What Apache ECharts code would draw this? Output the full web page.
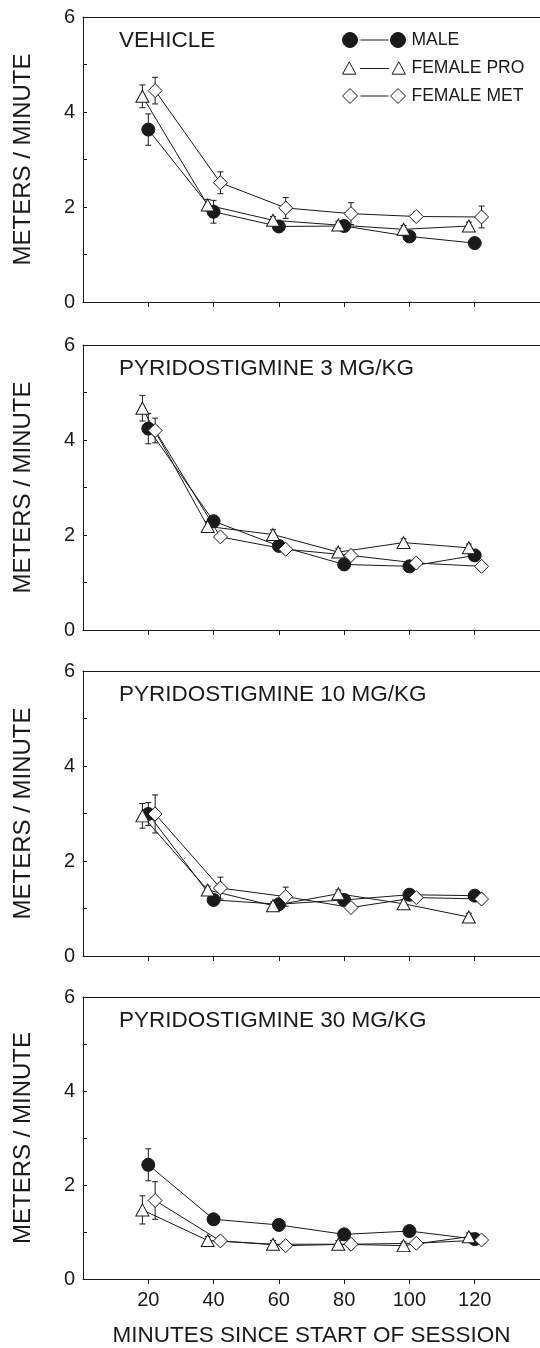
<!DOCTYPE html>
<html>
<head>
<meta charset="utf-8">
<script src="https://cdn.jsdelivr.net/npm/echarts@6/dist/echarts.min.js"></script>
<style>
  html, body { margin: 0; padding: 0; background: #fff; }
  #chart { width: 540px; height: 1348px; }
</style>
</head>
<body>
<div id="chart"></div>
<script>
// minutes since start of session
const minutes = [20, 40, 60, 80, 100, 120];
const panelTitles = ['VEHICLE', 'PYRIDOSTIGMINE 3 MG/KG', 'PYRIDOSTIGMINE 10 MG/KG', 'PYRIDOSTIGMINE 30 MG/KG'];
const yTicks = [0, 2, 4, 6];

// meters / minute, one row per panel
const maleVals = [
  [3.63, 1.90, 1.59, 1.60, 1.38, 1.24],
  [4.24, 2.29, 1.77, 1.38, 1.34, 1.57],
  [2.99, 1.18, 1.09, 1.18, 1.29, 1.27],
  [2.43, 1.27, 1.15, 0.95, 1.02, 0.85]
];
const proVals = [
  [4.33, 2.04, 1.72, 1.62, 1.53, 1.60],
  [4.67, 2.18, 2.01, 1.64, 1.84, 1.73],
  [2.95, 1.39, 1.06, 1.31, 1.10, 0.82],
  [1.47, 0.82, 0.74, 0.74, 0.71, 0.90]
];
const metVals = [
  [4.45, 2.51, 1.98, 1.86, 1.80, 1.79],
  [4.20, 1.96, 1.70, 1.57, 1.41, 1.34],
  [2.99, 1.43, 1.25, 1.02, 1.23, 1.20],
  [1.67, 0.81, 0.71, 0.74, 0.76, 0.83]
];

// standard errors
const maleErr = [
  [0.33, 0.24, 0.10, 0.08, 0.08, 0.08],
  [0.32, 0.10, 0.10, 0.08, 0.08, 0.08],
  [0.24, 0.08, 0.08, 0.08, 0.08, 0.08],
  [0.34, 0.08, 0.08, 0.08, 0.08, 0.08]
];
const proErr = [
  [0.24, 0.12, 0.08, 0.08, 0.08, 0.08],
  [0.27, 0.10, 0.10, 0.08, 0.08, 0.08],
  [0.26, 0.08, 0.08, 0.08, 0.08, 0.08],
  [0.30, 0.08, 0.08, 0.08, 0.08, 0.08]
];
const metErr = [
  [0.28, 0.23, 0.22, 0.23, 0.10, 0.23],
  [0.26, 0.08, 0.08, 0.08, 0.08, 0.08],
  [0.40, 0.23, 0.20, 0.08, 0.08, 0.08],
  [0.40, 0.08, 0.08, 0.08, 0.08, 0.08]
];

const FONT = "'Liberation Sans', Arial, sans-serif";
const INK = '#1a1a1a';
const panelTops = [17, 345, 671, 997];
const panelHeight = 285;

const groups = [
  { name: 'MALE', vals: maleVals, err: maleErr, shift: 0, symbol: 'circle', size: 13, fill: INK },
  { name: 'FEMALE PRO', vals: proVals, err: proErr, shift: -1.8, symbol: 'triangle', size: [13, 12], fill: '#fff' },
  { name: 'FEMALE MET', vals: metVals, err: metErr, shift: 2.1, symbol: 'diamond', size: [14, 14], fill: '#fff' }
];

function errorBarItem(params, api) {
  const x = api.value(0);
  const top = api.coord([x, api.value(2)]);
  const bot = api.coord([x, api.value(1)]);
  const w = 3;
  const st = { stroke: INK, lineWidth: 1 };
  return {
    type: 'group',
    children: [
      { type: 'line', shape: { x1: top[0], y1: top[1], x2: bot[0], y2: bot[1] }, style: st },
      { type: 'line', shape: { x1: top[0] - w, y1: top[1], x2: top[0] + w, y2: top[1] }, style: st },
      { type: 'line', shape: { x1: bot[0] - w, y1: bot[1], x2: bot[0] + w, y2: bot[1] }, style: st }
    ]
  };
}

const grid = [], xAxis = [], yAxis = [], series = [], title = [];

panelTops.forEach(function (top, p) {
  const last = p === panelTops.length - 1;
  grid.push({ left: 83, right: 0, top: top, height: panelHeight });
  title.push({
    text: panelTitles[p], left: 114, top: top + 7,
    textStyle: { fontFamily: FONT, fontSize: 22.5, fontWeight: 'normal', color: INK }
  });
  xAxis.push({
    gridIndex: p, type: 'value', min: 0, max: 140, interval: 20,
    name: last ? 'MINUTES SINCE START OF SESSION' : '',
    nameLocation: 'middle', nameGap: 45,
    nameTextStyle: { fontFamily: FONT, fontSize: 22.5, color: INK },
    axisLine: { lineStyle: { color: INK, width: 1 } },
    axisTick: { show: true, length: 5, customValues: minutes, lineStyle: { color: INK } },
    axisLabel: { show: last, customValues: minutes, margin: 11, fontFamily: FONT, fontSize: 20, color: INK },
    splitLine: { show: false }
  });
  // top frame line
  xAxis.push({
    gridIndex: p, type: 'value', position: 'top', min: 0, max: 140,
    axisLine: { show: true, lineStyle: { color: INK, width: 1 } },
    axisTick: { show: false }, axisLabel: { show: false }, splitLine: { show: false }
  });
  yAxis.push({
    gridIndex: p, type: 'value', min: 0, max: 6, interval: 1,
    name: 'METERS / MINUTE', nameLocation: 'middle', nameGap: 48,
    nameTextStyle: { fontFamily: FONT, fontSize: 24, color: INK },
    axisLine: { show: true, lineStyle: { color: INK, width: 1 } },
    axisTick: { show: true, inside: true, length: 4, lineStyle: { color: INK } },
    axisLabel: { customValues: yTicks, margin: 8, fontFamily: FONT, fontSize: 20, color: INK },
    splitLine: { show: false }
  });

  groups.forEach(function (g) {
    const xs = minutes.map(function (m) { return m + g.shift; });
    series.push({
      type: 'custom', name: g.name, xAxisIndex: p * 2, yAxisIndex: p, z: 1,
      renderItem: errorBarItem,
      encode: { x: 0, y: [1, 2] },
      data: xs.map(function (x, i) {
        const v = g.vals[p][i], e = g.err[p][i];
        return [x, v - e, v + e];
      })
    });
    series.push({
      type: 'line', name: g.name, xAxisIndex: p * 2, yAxisIndex: p, z: 3,
      data: xs.map(function (x, i) { return [x, g.vals[p][i]]; }),
      symbol: g.symbol, symbolSize: g.size, showAllSymbol: true,
      lineStyle: { color: INK, width: 1 },
      itemStyle: { color: g.fill, borderColor: INK, borderWidth: 1 },
      emphasis: { disabled: true },
      animation: false
    });
  });
});

const legendIcons = {
  'MALE': 'path://M0,7.5A7.5,7.5 0 1,1 15,7.5A7.5,7.5 0 1,1 0,7.5Z M18,7.5L46,7.5 M48,7.5A7.5,7.5 0 1,1 63,7.5A7.5,7.5 0 1,1 48,7.5Z',
  'FEMALE PRO': 'path://M1,13L7.5,1L14,13Z M18,7.5L46,7.5 M49,13L55.5,1L62,13Z',
  'FEMALE MET': 'path://M0,7.5L7.5,0L15,7.5L7.5,15Z M18,7.5L46,7.5 M48,7.5L55.5,0L63,7.5L55.5,15Z'
};

const chart = echarts.init(document.getElementById('chart'));
chart.setOption({
  animation: false,
  backgroundColor: '#fff',
  title: title,
  grid: grid,
  xAxis: xAxis,
  yAxis: yAxis,
  legend: {
    left: 337, top: 26, orient: 'vertical',
    itemWidth: 63, itemHeight: 15, itemGap: 10,
    selectedMode: false,
    textStyle: { fontFamily: FONT, fontSize: 17.5, color: INK, padding: [0, 0, 0, 1] },
    data: groups.map(function (g) {
      return {
        name: g.name, icon: legendIcons[g.name],
        itemStyle: { color: g.fill, borderColor: INK, borderWidth: 1 }
      };
    })
  },
  series: series
});
</script>
</body>
</html>
